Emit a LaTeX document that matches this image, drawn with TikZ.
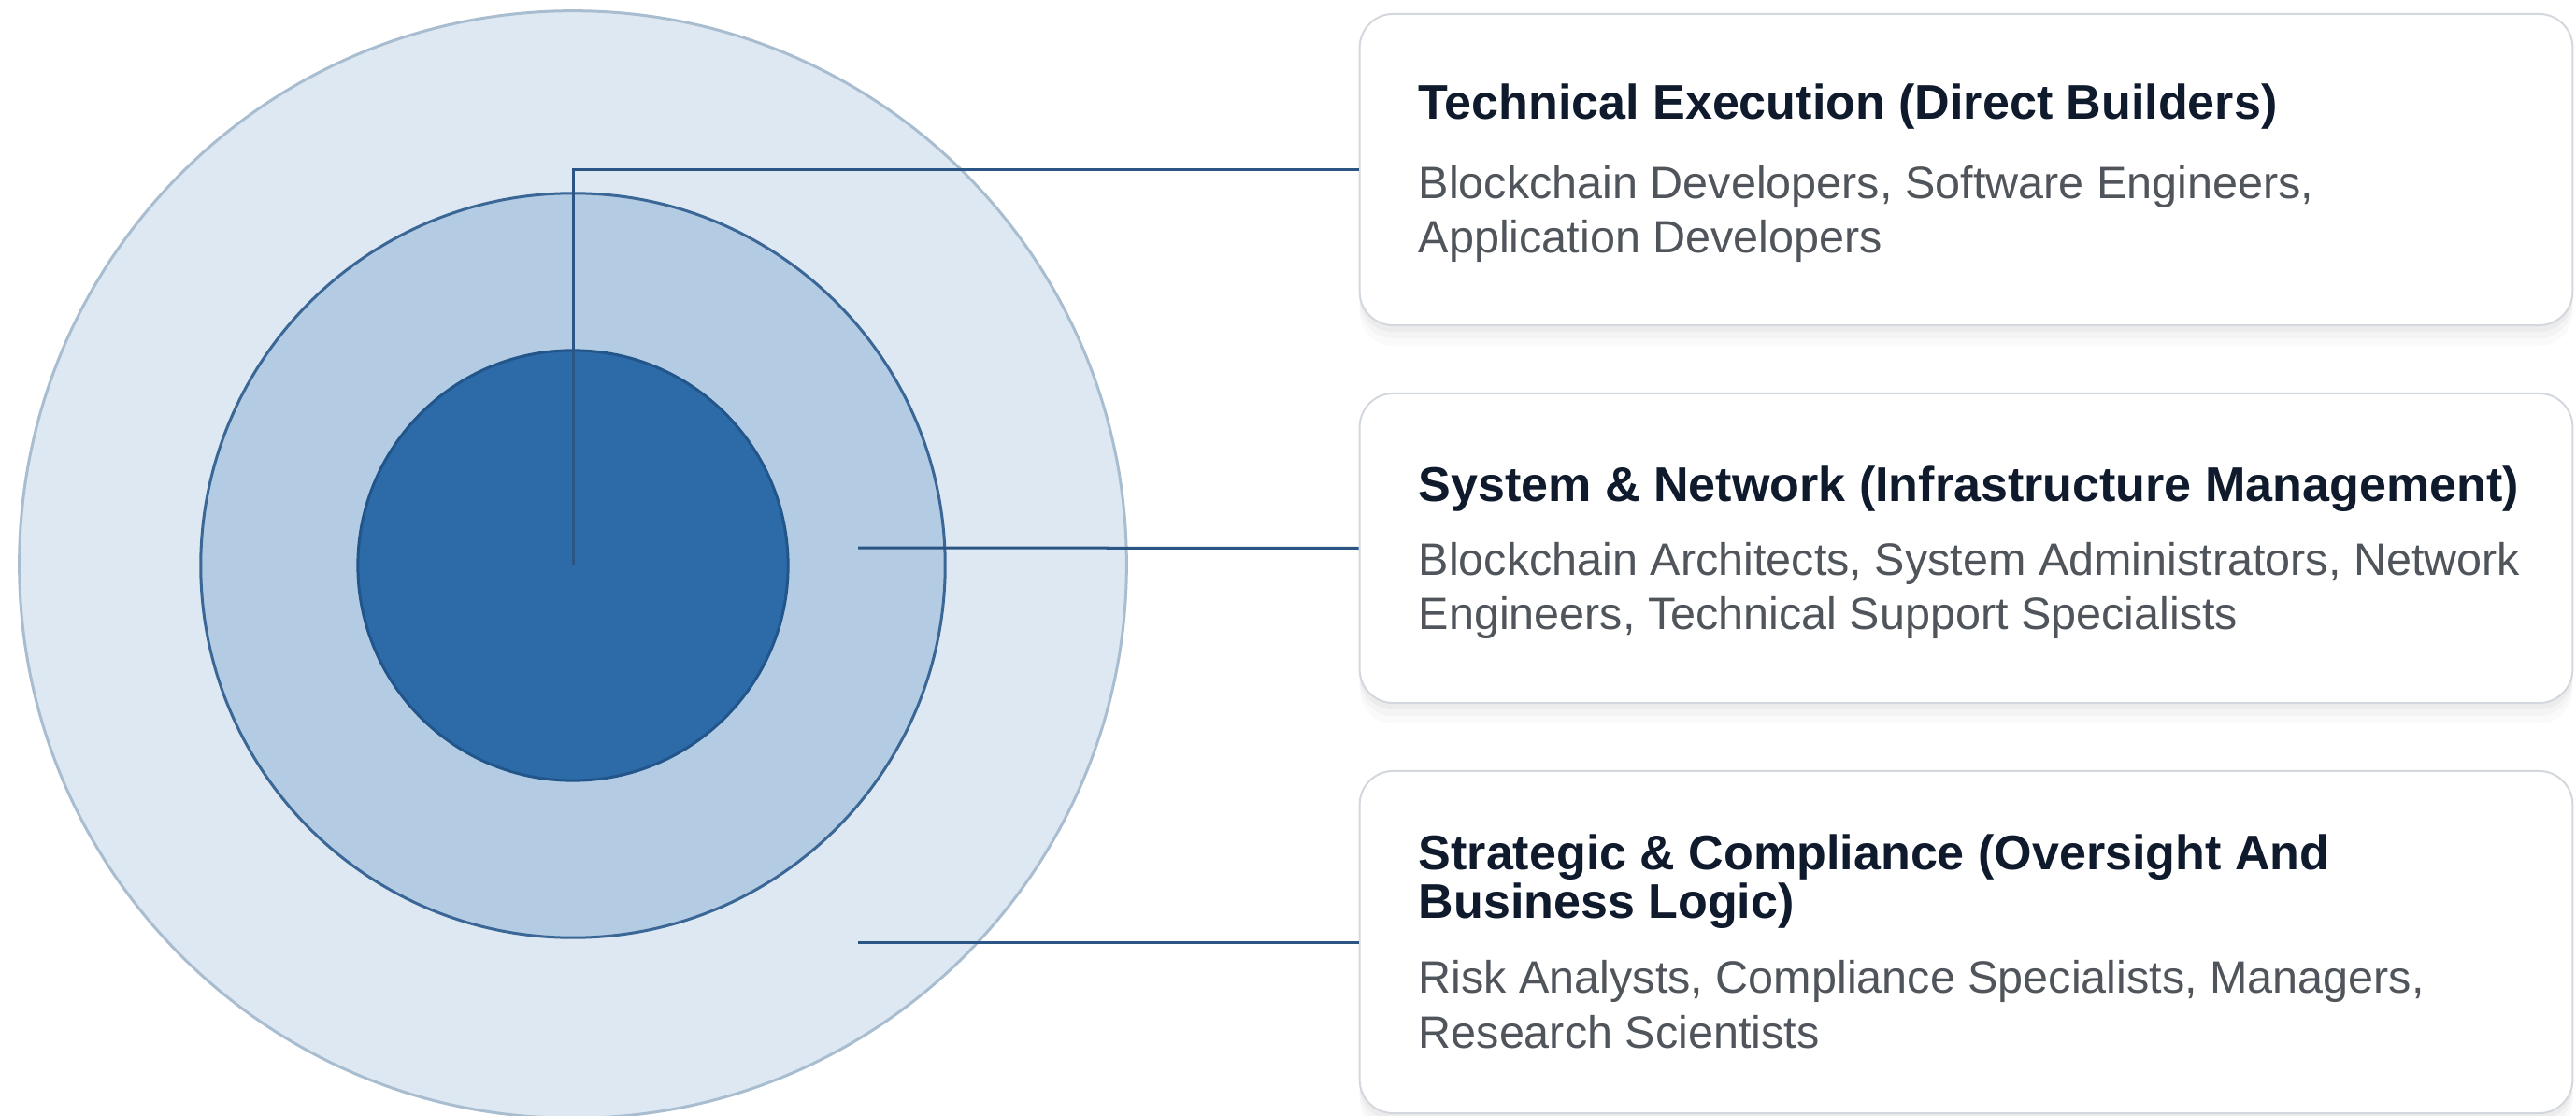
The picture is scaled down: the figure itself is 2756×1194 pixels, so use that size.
\documentclass[tikz,border=0pt]{standalone}
\usepackage{fontspec}
\setmainfont{Liberation Sans}
\usetikzlibrary{shadows}
\definecolor{outerfill}{HTML}{DEE8F2}
\definecolor{outerline}{HTML}{A9BDD0}
\definecolor{midfill}{HTML}{B3CBE3}
\definecolor{midline}{HTML}{3A6796}
\definecolor{innerfill}{HTML}{2D6AA8}
\definecolor{innerline}{HTML}{22568B}
\definecolor{conn}{HTML}{2A5585}
\definecolor{boxline}{HTML}{D3D8DE}
\definecolor{titlec}{HTML}{0F1A2C}
\definecolor{subc}{HTML}{50555C}
\tikzset{
  ring/.style={circle, inner sep=0pt, line width=0.03cm},
  cardbox/.style={rectangle, rounded corners=0.36cm, draw=boxline, line width=0.02cm, fill=white,
    minimum width=12.97cm, inner sep=0pt,
    general shadow={fill=black, opacity=0.018, shadow xshift=0pt, shadow yshift=-0.22cm},
    general shadow={fill=black, opacity=0.022, shadow xshift=0pt, shadow yshift=-0.14cm},
    general shadow={fill=black, opacity=0.03, shadow xshift=0pt, shadow yshift=-0.07cm}},
  ttl/.style={anchor=base west, inner sep=0pt, text=titlec, font=\fontsize{14.8pt}{14.8pt}\selectfont\bfseries},
  sub/.style={anchor=base west, inner sep=0pt, text=subc, font=\fontsize{13.8pt}{16pt}\selectfont},
  connector/.style={draw=conn, line width=0.03cm}
}
\begin{document}
\begin{tikzpicture}[x=0.01cm, y=-0.01cm]
\useasboundingbox[fill=white] (0,0) rectangle (2756,1194);
% circles
\node[ring, fill=outerfill, draw=outerline, minimum size=11.84cm] (outer) at (613,604) {};
\node[ring, fill=midfill, draw=midline, minimum size=7.96cm] (middle) at (613,605) {};
\node[ring, fill=innerfill, draw=innerline, minimum size=4.60cm] (inner) at (613,605) {};
\coordinate (c1) at (613,605);
\coordinate (c2) at (918,586);
\coordinate (c3) at (918,1008);
% boxes
\node[cardbox, minimum height=3.33cm] (box1) at (2103.5,181.5) {};
\node[cardbox, minimum height=3.31cm] (box2) at (2103.5,586.5) {};
\node[cardbox, minimum height=3.66cm] (box3) at (2103.5,1008) {};
% connectors
\draw[connector] (c1) |- (box1.west);
\draw[connector] (c2) -- (box2.west);
\draw[connector] (c3) -- (box3.west);
% texts
\node[ttl] (t1) at (1517,128) {Technical Execution (Direct Builders)};
\node[sub] (s1a) at (1517,213) {Blockchain Developers, Software Engineers,};
\node[sub] (s1b) at (1517,271) {Application Developers};
\node[ttl] (t2) at (1517,537) {System \& Network (Infrastructure Management)};
\node[sub] (s2a) at (1517,615) {Blockchain Architects, System Administrators, Network};
\node[sub] (s2b) at (1517,673) {Engineers, Technical Support Specialists};
\node[ttl] (t3a) at (1517,930) {Strategic \& Compliance (Oversight And};
\node[ttl] (t3b) at (1517,982) {Business Logic)};
\node[sub] (s3a) at (1517,1062) {Risk Analysts, Compliance Specialists, Managers,};
\node[sub] (s3b) at (1517,1121) {Research Scientists};
\end{tikzpicture}
\end{document}
